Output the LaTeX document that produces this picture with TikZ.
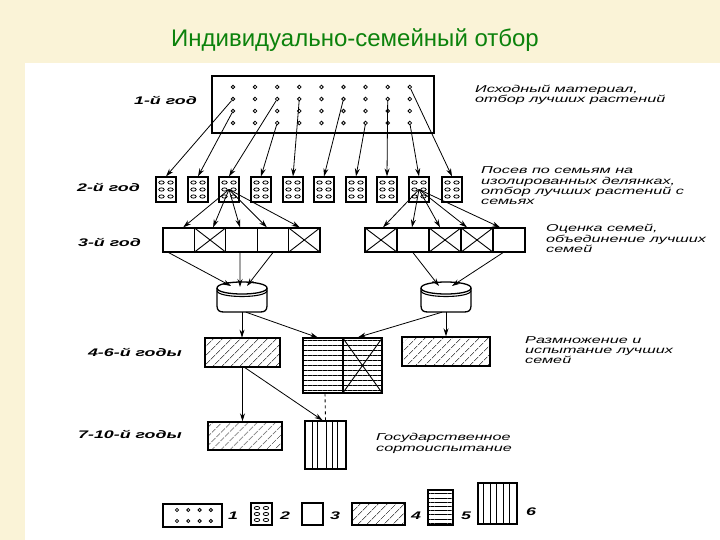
\documentclass[tikz,border=0pt]{standalone}
\usepackage{fontspec}
\setmainfont{Liberation Sans}
\newfontfamily\widefont[FakeStretch=1.62]{Liberation Sans}
\usetikzlibrary{arrows.meta,patterns.meta,calc}
\definecolor{bgcream}{RGB}{250,243,215}
\definecolor{titlegreen}{RGB}{12,130,12}
\begin{document}
\begin{tikzpicture}[x=1pt,y=-1pt,
  frame/.style={draw, line width=1.5pt, inner sep=0pt},
  sbox/.style={draw, line width=1.2pt, inner sep=0pt, minimum width=20pt, minimum height=25pt},
  cellL/.style={draw, line width=1.3pt, inner sep=0pt, minimum width=31.4pt, minimum height=24pt},
  cellR/.style={cellL, minimum width=32pt},
  arr/.style={-{Stealth[length=8pt,width=5pt]}, line width=0.8pt},
  dotn/.style={circle, draw, line width=0.8pt, inner sep=0pt, minimum size=3.6pt},
  hatch/.style={pattern={Lines[angle=45,distance=6.5pt,line width=0.7pt]}},
  hlines/.style={pattern={Lines[angle=0,distance=5pt,line width=0.7pt]}},
  hlinesb/.style={pattern={Lines[angle=0,distance=4.2pt,line width=0.7pt]}},
  lab/.style={font=\widefont\bfseries\itshape\fontsize{11}{13}\selectfont, inner sep=0pt, anchor=base east},
  num/.style={lab, anchor=base west},
  desc/.style={font=\widefont\itshape\fontsize{10}{12}\selectfont, inner sep=0pt, anchor=base west},
  xline/.style={line width=0.9pt},
  oval/.style={line width=0.8pt},
  cylline/.style={line width=1.3pt}
]
\useasboundingbox (0,0) rectangle (720,540);
\fill[bgcream] (0,0) rectangle (720,540);
\fill[white] (25,63) rectangle (720,540);

% title
\node[font=\fontsize{24}{28}\selectfont, text=titlegreen, inner sep=0pt, anchor=base] (title) at (355,47) {Индивидуально-семейный отбор};

% row labels
\node[lab] (l1) at (197,105) {1-й год};
\node[lab] (l2) at (140,192) {2-й год};
\node[lab] (l3) at (141,246) {3-й год};
\node[lab] (l4) at (182,356) {4-6-й годы};
\node[lab] (l5) at (182,438.5) {7-10-й годы};

% descriptions
\node[desc] (t1a) at (475,92.5) {Исходный материал,};
\node[desc] (t1b) at (475,103) {отбор лучших растений};
\node[desc] (t2a) at (481,174) {Посев по семьям на};
\node[desc] (t2b) at (481,184.5) {изолированных делянках,};
\node[desc] (t2c) at (481,195) {отбор лучших растений с};
\node[desc] (t2d) at (481,205) {семьях};
\node[desc] (t3a) at (546,232) {Оценка семей,};
\node[desc] (t3b) at (546,242) {объединение лучших};
\node[desc] (t3c) at (546,252) {семей};
\node[desc] (t4a) at (525,343.5) {Размножение и};
\node[desc] (t4b) at (525,353) {испытание лучших};
\node[desc] (t4c) at (525,363) {семей};
\node[desc] (t5a) at (376,440) {Государственное};
\node[desc] (t5b) at (376,451) {сортоиспытание};

% year 1: source material
\node[frame, minimum width=222pt, minimum height=57pt] (top) at (323,104.5) {};
\foreach \c in {1,...,9}
  \foreach \r in {1,...,4}
    \node[dotn] (d\c-\r) at ({233+(\c-1)*22.1},{87+(\r-1)*12}) {};

% year 2: family plots
\foreach \i/\x in {1/166,2/198,3/229,4/261,5/293,6/324,7/356,8/387,9/419,10/452}
  \node[sbox] (s\i) at (\x,189.5) {};
\foreach \i in {1,...,10}
  \foreach \dx/\dy in {-4.5/-7,4.5/-7,-4.5/0,4.5/0,-4.5/7,4.5/7}
    \draw[oval] ($(s\i)+(\dx,\dy)$) ellipse (2.7 and 1.6);

\draw[arr] (d1-2) -- (s1.north);
\draw[arr] (d1-3) -- (s2.north);
\draw[arr] (d3-2) -- (s3.north);
\draw[arr] (d3-4) -- (s4.north);
\draw[arr] (d4-2) -- (s5.north);
\draw[arr] (d6-2) -- (s6.north);
\draw[arr] (d7-4) -- (s7.north);
\draw[arr] (d8-2) -- (s8.north);
\draw[arr] (d9-4) -- (s9.north);
\draw[arr] (d9-1) -- (s10.north);

% year 3: strips
\foreach \i in {1,...,5}
  \node[cellL] (L\i) at ({178.7+(\i-1)*31.4},240) {};
\foreach \i in {1,...,5}
  \node[cellR] (R\i) at ({381+(\i-1)*32},240) {};
\foreach \n in {L2,L5,R1,R3,R4}
  \draw[xline] (\n.north west) -- (\n.south east) (\n.north east) -- (\n.south west);

\draw[arr] (s3.center) -- ([xshift=4.5pt]L1.north);
\draw[arr] (s3.center) -- ([xshift=3pt]L2.north);
\draw[arr] (s3.center) -- ([xshift=-1.5pt]L3.north);
\draw[arr] (s3.center) -- ([xshift=-6pt]L4.north);
\draw[arr] (s3.center) -- ([xshift=-4.5pt]L5.north);
\draw[arr] (s9.center) -- ([xshift=2pt]R1.north);
\draw[arr] (s9.center) -- ([xshift=-1pt]R2.north);
\draw[arr] (s9.center) -- ([xshift=-5pt]R3.north);
\draw[arr] (s9.center) -- ([xshift=-10pt]R4.north);
\draw[arr] (s9.center) -- ([xshift=-9pt]R5.north);

% cylinders (seed containers)
\node[inner sep=0pt, minimum width=50pt, minimum height=30pt] (cylL) at (242,297) {};
\node[inner sep=0pt, minimum width=50pt, minimum height=30pt] (cylR) at (446,297) {};
\foreach \cx in {242,446} {
  \draw[cylline, fill=white] ({\cx-25},288) -- ({\cx-25},306) .. controls ({\cx-25},311) and ({\cx-22},312) .. ({\cx-18},312)
     -- ({\cx+18},312) .. controls ({\cx+22},312) and ({\cx+25},311) .. ({\cx+25},306) -- ({\cx+25},288);
  \draw[cylline, fill=white] ({\cx-25},288) .. controls ({\cx-25},280) and ({\cx+25},280) .. ({\cx+25},288)
     .. controls ({\cx+25},296) and ({\cx-25},296) .. ({\cx-25},288) -- cycle;
  \draw[line width=1.1pt] ({\cx-25},290.5) .. controls ({\cx-25},298.5) and ({\cx+25},298.5) .. ({\cx+25},290.5);
}
\coordinate (cL1) at (231,286);
\coordinate (cL2) at (240,287);
\coordinate (cL3) at (247,286);
\coordinate (cR1) at (439,286);
\coordinate (cR2) at (452,286);
\draw[arr] ([xshift=-10pt]L1.south) -- (cL1);
\draw[arr] ([xshift=-1.5pt]L3.south) -- (cL2);
\draw[arr] (L4.south) -- (cL3);
\draw[arr] (R2.south) -- (cR1);
\draw[arr] ([xshift=-6pt]R5.south) -- (cR2);

% years 4-6
\node[draw, line width=1.4pt, inner sep=0pt, minimum width=75pt, minimum height=29pt, hatch] (hL) at (242.5,352.5) {};
\node[draw, line width=1.4pt, inner sep=0pt, minimum width=88pt, minimum height=29pt, hatch] (hR) at (446,351.5) {};
\node[draw, line width=1.4pt, inner sep=0pt, minimum width=40pt, minimum height=55pt, hlines] (midA) at (323,365.5) {};
\node[draw, line width=1.4pt, inner sep=0pt, minimum width=39pt, minimum height=55pt, hlines] (midB) at (362.5,365.5) {};
\draw[xline] (midB.north west) -- (midB.south east) (midB.north east) -- (midB.south west);

\draw[arr] (cylL.south) -- (cylL.south |- hL.north);
\draw[arr] ([xshift=4pt]cylL.south) -- ([xshift=-5pt]midA.north);
\draw[arr] ([xshift=-4pt]cylR.south) -- ([xshift=-4.5pt]midB.north);
\draw[arr] (cylR.south) -- (cylR.south |- hR.north);

% years 7-10
\node[draw, line width=1.4pt, inner sep=0pt, minimum width=74pt, minimum height=28pt, hatch] (h7) at (245,436) {};
\node[draw, line width=1.4pt, inner sep=0pt, minimum width=41pt, minimum height=48pt] (vbox) at (325.5,445) {};
\foreach \o in {8,13,22,28,33}
  \draw[xline] ($(vbox.north west)+(\o,0)$) -- ($(vbox.south west)+(\o,0)$);

\draw[arr] (hL.south) -- (hL.south |- h7.north);
\draw[arr] ([xshift=2pt]hL.south) -- ([xshift=-3pt]vbox.north);
\draw[line width=0.9pt, dashed] ([xshift=2pt]midA.south) -- (vbox.north);

% legend
\node[draw, line width=1.4pt, inner sep=0pt, minimum width=59pt, minimum height=23pt] (lg1) at (192.5,515.5) {};
\foreach \k in {0,1,2,3}
  \foreach \yy in {510,521}
    \draw[oval] ({177+\k*11.3},\yy) circle (1.6);
\node[num] (n1) at (228,519) {1};

\node[draw, line width=1.3pt, inner sep=0pt, minimum width=21pt, minimum height=22pt] (lg2) at (261.5,514) {};
\foreach \dx/\dy in {-4.5/-6,4.5/-6,-4.5/0,4.5/0,-4.5/6,4.5/6}
  \draw[oval] ($(lg2)+(\dx,\dy)$) ellipse (2.7 and 1.6);
\node[num] (n2) at (280,519) {2};

\node[draw, line width=1.3pt, inner sep=0pt, minimum width=21pt, minimum height=22pt] (lg3) at (312.5,514) {};
\node[num] (n3) at (330,519) {3};

\node[draw, line width=1.4pt, inner sep=0pt, minimum width=53pt, minimum height=22pt, hatch] (lg4) at (378.5,514) {};
\node[num] (n4) at (411,519) {4};

\node[draw, line width=1.4pt, inner sep=0pt, minimum width=25pt, minimum height=35pt, hlinesb] (lg5) at (440.5,507.5) {};
\node[num] (n5) at (461,519) {5};

\node[draw, line width=1.4pt, inner sep=0pt, minimum width=39pt, minimum height=41pt] (lg6) at (497.5,503.5) {};
\foreach \o in {6.5,13,19.5,26,32.5}
  \draw[xline] ($(lg6.north west)+(\o,0)$) -- ($(lg6.south west)+(\o,0)$);
\node[num] (n6) at (526,515) {6};
\end{tikzpicture}
\end{document}
